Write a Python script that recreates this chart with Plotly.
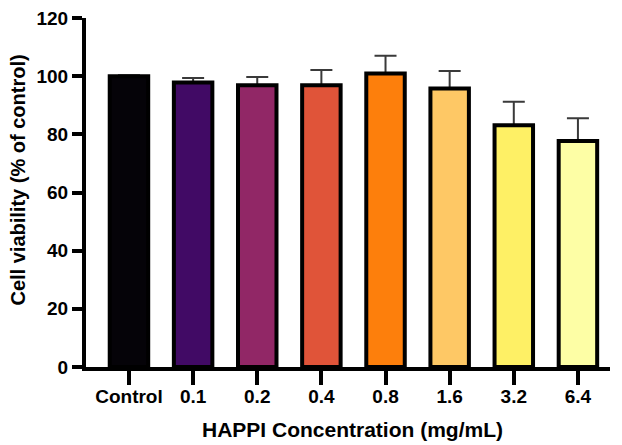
import plotly.graph_objects as go

categories = ["Control", "0.1", "0.2", "0.4", "0.8", "1.6", "3.2", "6.4"]
viability = [100.0, 97.8, 96.9, 96.9, 100.9, 95.8, 83.1, 77.7]
sd = [0.3, 1.6, 2.8, 5.2, 6.1, 6.0, 8.1, 7.8]
colors = ["#050308", "#410a65", "#912766", "#e05439", "#fd7f0c", "#fec865", "#fef065", "#fdfea5"]
y_ticks = [0, 20, 40, 60, 80, 100, 120]

FONT = "Liberation Sans, Arial, Helvetica, sans-serif"
xpos = list(range(len(categories)))

# figure layout geometry (page has an 8px body margin)
ML, MR, MT, MB = 78, 20, 10, 86
PW = 622 - ML - MR
PH = 445 - MT - MB

fig = go.Figure()
# error bars trace (drawn first, so the coloured bars cover its lower cap)
fig.add_trace(go.Bar(
    x=xpos, y=viability, width=0.6,
    marker=dict(color="rgba(0,0,0,0)", line=dict(width=0)),
    error_y=dict(type="data", symmetric=False, array=sd,
                 arrayminus=[0] * len(sd), color="#3a3a3a",
                 thickness=2, width=11),
    showlegend=False, hoverinfo="skip",
))
fig.add_trace(go.Bar(
    x=xpos, y=viability, width=0.6,
    marker=dict(color=colors, line=dict(color="black", width=4)),
    showlegend=False,
))

fig.update_layout(
    width=622, height=445, barmode="overlay",
    margin=dict(l=ML, r=MR, t=MT, b=MB),
    paper_bgcolor="white", plot_bgcolor="white",
    font=dict(family=FONT, size=19, color="black", weight="bold"),
    xaxis=dict(
        range=[-0.67, 7.5], tickmode="array", tickvals=xpos, ticktext=categories,
        showline=True, linecolor="black", linewidth=4,
        ticks="outside", ticklen=14, tickwidth=4, tickcolor="black",
        showgrid=False, zeroline=False, automargin=False,
        ticklabeloverflow="allow", ticklabelstandoff=-5,
        tickfont=dict(family=FONT, size=19, color="black", weight="bold"),
    ),
    yaxis=dict(
        range=[0, 120], tickmode="array", tickvals=y_ticks,
        showline=True, linecolor="black", linewidth=4,
        ticks="outside", ticklen=10, tickwidth=4, tickcolor="black",
        showgrid=False, zeroline=False, automargin=False,
        ticklabeloverflow="allow",
        tickfont=dict(family=FONT, size=19, color="black", weight="bold"),
    ),
    annotations=[
        dict(
            text="HAPPI Concentration (mg/mL)", xref="paper", yref="paper",
            x=(344 - ML) / PW, y=(MT + PH - 421.5) / PH,
            xanchor="center", yanchor="middle", showarrow=False,
            font=dict(family=FONT, size=21, color="black", weight="bold"),
        ),
        dict(
            text="Cell viability (% of control)", xref="paper", yref="paper",
            x=(9.5 - ML) / PW, y=(MT + PH - 172) / PH, textangle=-90,
            xanchor="center", yanchor="middle", showarrow=False,
            font=dict(family=FONT, size=20, color="black", weight="bold"),
        ),
    ],
)

fig.write_html("out.html")
